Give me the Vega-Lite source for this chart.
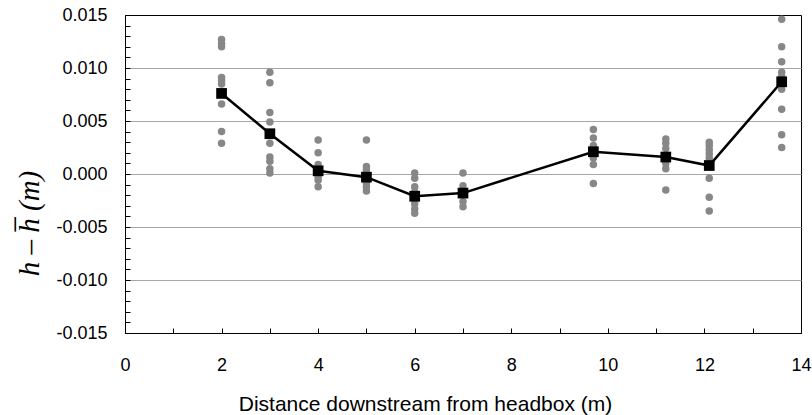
{
  "$schema": "https://vega.github.io/schema/vega-lite/v6.json",
  "width": 676,
  "height": 318,
  "autosize": {"type": "none"},
  "padding": {"left": 125, "top": 15, "right": 11, "bottom": 82},
  "background": "white",
  "config": {
    "view": {"stroke": "black", "strokeWidth": 1},
    "axis": {
      "domainColor": "black",
      "domainWidth": 1,
      "tickColor": "black",
      "tickWidth": 1,
      "labelFont": "Liberation Sans",
      "labelFontSize": 18,
      "labelColor": "black",
      "titleColor": "black",
      "titleFontWeight": "normal",
      "labelOverlap": false,
      "labelFlush": false
    }
  },
  "datasets": {
    "samples": [
      {"distance": 2, "deviation": 0.0127}, {"distance": 2, "deviation": 0.0123}, {"distance": 2, "deviation": 0.012},
      {"distance": 2, "deviation": 0.0091}, {"distance": 2, "deviation": 0.0088}, {"distance": 2, "deviation": 0.0085},
      {"distance": 2, "deviation": 0.0066}, {"distance": 2, "deviation": 0.004}, {"distance": 2, "deviation": 0.0029},
      {"distance": 3, "deviation": 0.0096}, {"distance": 3, "deviation": 0.0086}, {"distance": 3, "deviation": 0.0058},
      {"distance": 3, "deviation": 0.0049}, {"distance": 3, "deviation": 0.0029}, {"distance": 3, "deviation": 0.0016},
      {"distance": 3, "deviation": 0.0012}, {"distance": 3, "deviation": 0.0005}, {"distance": 3, "deviation": 0.0001},
      {"distance": 4, "deviation": 0.0032}, {"distance": 4, "deviation": 0.002}, {"distance": 4, "deviation": 0.0009},
      {"distance": 4, "deviation": 0.0005}, {"distance": 4, "deviation": 0.0001}, {"distance": 4, "deviation": -0.0003},
      {"distance": 4, "deviation": -0.0006}, {"distance": 4, "deviation": -0.0012},
      {"distance": 5, "deviation": 0.0032}, {"distance": 5, "deviation": 0.0007}, {"distance": 5, "deviation": 0.0004},
      {"distance": 5, "deviation": -0.0001}, {"distance": 5, "deviation": -0.0009}, {"distance": 5, "deviation": -0.0012},
      {"distance": 5, "deviation": -0.0016},
      {"distance": 6, "deviation": 0.0001}, {"distance": 6, "deviation": -0.0004}, {"distance": 6, "deviation": -0.0012},
      {"distance": 6, "deviation": -0.0017}, {"distance": 6, "deviation": -0.0028}, {"distance": 6, "deviation": -0.0033},
      {"distance": 6, "deviation": -0.0037},
      {"distance": 7, "deviation": 0.0001}, {"distance": 7, "deviation": -0.0011}, {"distance": 7, "deviation": -0.0015},
      {"distance": 7, "deviation": -0.0026}, {"distance": 7, "deviation": -0.0031},
      {"distance": 9.7, "deviation": 0.0042}, {"distance": 9.7, "deviation": 0.0034}, {"distance": 9.7, "deviation": 0.0027},
      {"distance": 9.7, "deviation": 0.0023}, {"distance": 9.7, "deviation": 0.0015}, {"distance": 9.7, "deviation": 0.0009},
      {"distance": 9.7, "deviation": -0.0009},
      {"distance": 11.2, "deviation": 0.0033}, {"distance": 11.2, "deviation": 0.0029}, {"distance": 11.2, "deviation": 0.0024},
      {"distance": 11.2, "deviation": 0.0013}, {"distance": 11.2, "deviation": 0.001}, {"distance": 11.2, "deviation": 0.0005},
      {"distance": 11.2, "deviation": -0.0015},
      {"distance": 12.1, "deviation": 0.003}, {"distance": 12.1, "deviation": 0.0027}, {"distance": 12.1, "deviation": 0.0023},
      {"distance": 12.1, "deviation": 0.0019}, {"distance": 12.1, "deviation": 0.0015}, {"distance": 12.1, "deviation": 0.0011},
      {"distance": 12.1, "deviation": -0.0004}, {"distance": 12.1, "deviation": -0.0022}, {"distance": 12.1, "deviation": -0.0035},
      {"distance": 13.6, "deviation": 0.0146}, {"distance": 13.6, "deviation": 0.012}, {"distance": 13.6, "deviation": 0.0106},
      {"distance": 13.6, "deviation": 0.0096}, {"distance": 13.6, "deviation": 0.0092}, {"distance": 13.6, "deviation": 0.008},
      {"distance": 13.6, "deviation": 0.0061}, {"distance": 13.6, "deviation": 0.0037}, {"distance": 13.6, "deviation": 0.0025}
    ],
    "means": [
      {"distance": 2, "deviation": 0.0076},
      {"distance": 3, "deviation": 0.0038},
      {"distance": 4, "deviation": 0.0003},
      {"distance": 5, "deviation": -0.0003},
      {"distance": 6, "deviation": -0.0021},
      {"distance": 7, "deviation": -0.0018},
      {"distance": 9.7, "deviation": 0.0021},
      {"distance": 11.2, "deviation": 0.0016},
      {"distance": 12.1, "deviation": 0.0008},
      {"distance": 13.6, "deviation": 0.0087}
    ]
  },
  "encoding": {
    "x": {
      "field": "distance",
      "type": "quantitative",
      "scale": {"domain": [0, 14], "nice": false, "zero": false},
      "axis": {
        "values": [0, 0.5, 1, 1.5, 2, 2.5, 3, 3.5, 4, 4.5, 5, 5.5, 6, 6.5, 7, 7.5, 8, 8.5, 9, 9.5, 10, 10.5, 11, 11.5, 12, 12.5, 13, 13.5, 14],
        "format": "d",
        "labelExpr": "datum.value % 2 === 0 ? datum.label : ''",
        "tickSize": -5,
        "labelPadding": 28,
        "grid": false,
        "title": "Distance downstream from headbox (m)",
        "titleFont": "Liberation Sans",
        "titleFontSize": 21,
        "titleX": 300,
        "titleY": 77,
        "titleAlign": "center",
        "titleBaseline": "alphabetic"
      }
    },
    "y": {
      "field": "deviation",
      "type": "quantitative",
      "scale": {"domain": [-0.015, 0.015], "nice": false, "zero": false},
      "axis": {
        "values": [-0.015, -0.014, -0.013, -0.012, -0.011, -0.01, -0.009, -0.008, -0.007, -0.006, -0.005, -0.004, -0.003, -0.002, -0.001, 0, 0.001, 0.002, 0.003, 0.004, 0.005, 0.006, 0.007, 0.008, 0.009, 0.01, 0.011, 0.012, 0.013, 0.014, 0.015],
        "format": ".3f",
        "labelExpr": "abs(round(datum.value * 1000)) % 5 === 0 ? replace(datum.label, '\u2212', '-') : ''",
        "tickSize": -5,
        "labelPadding": 23,
        "grid": true,
        "gridColor": "#a6a6a6",
        "gridWidth": 1,
        "gridOpacity": {"condition": {"test": "abs(round(datum.value * 1000)) % 5 === 0 && abs(round(datum.value * 1000)) < 15", "value": 1}, "value": 0},
        "title": "h \u2013 h\u0305 (m)",
        "titleFont": "Liberation Serif",
        "titleFontStyle": "italic",
        "titleFontSize": 29,
        "titleX": -87,
        "titleY": 208,
        "titleAlign": "center",
        "titleBaseline": "alphabetic"
      }
    }
  },
  "layer": [
    {
      "data": {"name": "samples"},
      "mark": {"type": "circle", "size": 56, "color": "#878787", "opacity": 1}
    },
    {
      "data": {"name": "means"},
      "mark": {"type": "line", "color": "black", "strokeWidth": 2.5}
    },
    {
      "data": {"name": "means"},
      "mark": {"type": "square", "size": 115, "color": "black", "opacity": 1}
    }
  ]
}
